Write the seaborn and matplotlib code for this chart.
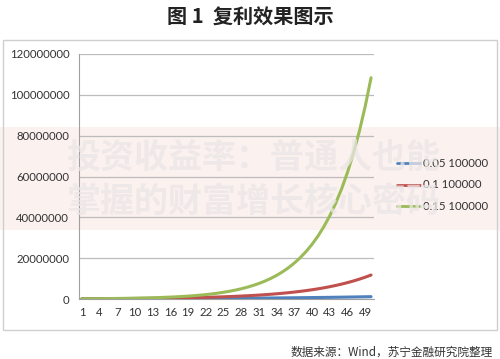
import numpy as np
import pandas as pd
import matplotlib
matplotlib.use("Agg")
import matplotlib.pyplot as plt
import seaborn as sns
from matplotlib.patches import Rectangle
from matplotlib.lines import Line2D

# ---- data ----
years = list(range(1, 51))
series_names = ["0.05 100000", "0.1 100000", "0.15 100000"]
rate_05 = [105000, 110250, 115763, 121551, 127628, 134010, 140710, 147746, 155133, 162889,
           171034, 179586, 188565, 197993, 207893, 218287, 229202, 240662, 252695, 265330,
           278596, 292526, 307152, 322510, 338635, 355567, 373346, 392013, 411614, 432194,
           453804, 476494, 500319, 525335, 551602, 579182, 608141, 638548, 670475, 703999,
           739199, 776159, 814967, 855715, 898501, 943426, 990597, 1040127, 1092133, 1146740]
rate_10 = [110000, 121000, 133100, 146410, 161051, 177156, 194872, 214359, 235795, 259374,
           285312, 313843, 345227, 379750, 417725, 459497, 505447, 555992, 611591, 672750,
           740025, 814027, 895430, 984973, 1083471, 1191818, 1311000, 1442100, 1586310, 1744940,
           1919434, 2111378, 2322515, 2554767, 2810244, 3091268, 3400395, 3740434, 4114478, 4525926,
           4978518, 5476370, 6024007, 6626408, 7289048, 8017953, 8819749, 9701723, 10671896, 11739085]
rate_15 = [115000, 132250, 152088, 174901, 201136, 231306, 266002, 305902, 351788, 404556,
           465239, 535025, 615279, 707571, 813706, 935762, 1076126, 1237545, 1423177, 1636654,
           1882152, 2164475, 2489146, 2862518, 3291895, 3785680, 4353531, 5006561, 5757545, 6621177,
           7614354, 8756507, 10069983, 11580480, 13317552, 15315185, 17612463, 20254332, 23292482, 26786354,
           30804307, 35424953, 40738696, 46849500, 53876925, 61958464, 71252233, 81940068, 94231078, 108365740]
y_ticks = [0, 20000000, 40000000, 60000000, 80000000, 100000000, 120000000]
x_labels = list(range(1, 51, 3))

title_text = "图 1  复利效果图示"
source_text = "数据来源：Wind，苏宁金融研究院整理"
watermark_lines = ["投资收益率：普通人也能", "掌握的财富增长核心密码"]

df = pd.DataFrame({
    "year": years * 3,
    "value": rate_05 + rate_10 + rate_15,
    "series": [series_names[0]] * 50 + [series_names[1]] * 50 + [series_names[2]] * 50,
})

sns.set_theme(style="white")
plt.rcParams["font.family"] = ["Lato", "Noto Sans CJK SC", "DejaVu Sans"]

fig = plt.figure(figsize=(5.0, 3.59), dpi=100)
fig.patch.set_facecolor("white")

# pink band (behind everything)
fig.patches.append(Rectangle((0, 1 - 230 / 359), 1, (230 - 127) / 359, transform=fig.transFigure,
                             facecolor="#fbf1ef", edgecolor="none", zorder=-5))
# chart box
fig.patches.append(Rectangle((3 / 500, 1 - 330 / 359), 494 / 500, 290 / 359, transform=fig.transFigure,
                             facecolor="none", edgecolor="#cfcfcf", lw=1.0, zorder=-4))

ax = fig.add_axes([79 / 500, 60 / 359, 295 / 500, 245 / 359])
ax.set_facecolor("none")
ax.set_zorder(1)

palette = {series_names[0]: "#4F81BD", series_names[1]: "#C0504D", series_names[2]: "#9BBB59"}
sns.lineplot(data=df, x="year", y="value", hue="series", palette=palette, linewidth=2.2,
             ax=ax, legend=False, zorder=3)

ax.set_xlim(0.5, 50.5)
ax.set_ylim(0, 120000000)
ax.set_yticks(y_ticks)
ax.set_yticklabels([str(v) for v in y_ticks])
ax.set_xticks(x_labels)
ax.set_xticklabels([str(v) for v in x_labels])
ax.set_xticks(np.arange(0.5, 51, 1), minor=True)
ax.tick_params(axis="x", which="major", length=0, pad=6, labelsize=8.2, labelcolor="#333333")
ax.tick_params(axis="x", which="minor", length=3, color="#a0a0a0", width=0.8, direction="out")
ax.tick_params(axis="y", which="major", length=4, color="#a0a0a0", width=0.8, direction="out",
               labelsize=8.2, labelcolor="#333333", pad=3)
ax.set_xlabel("")
ax.set_ylabel("")
ax.grid(axis="y", color="#bcbcbc", linewidth=0.9, zorder=1)
ax.set_axisbelow(True)
for side in ["top", "right"]:
    ax.spines[side].set_visible(False)
for side in ["left", "bottom"]:
    ax.spines[side].set_color("#a0a0a0")
    ax.spines[side].set_linewidth(0.8)

# legend
handles = [Line2D([0], [0], color=palette[n], lw=2.0) for n in series_names]
fig.legend(handles, series_names, loc="center left", bbox_to_anchor=(387 / 500, 1 - 185 / 359),
           frameon=False, fontsize=8.2, handlelength=2.0, handletextpad=0.25, labelspacing=0.95,
           labelcolor="#333333")

# title
fig.text(0.5, 1 - 17 / 359, title_text, ha="center", va="center", fontsize=14.5, fontweight="bold",
         family=["Noto Sans CJK SC", "DejaVu Sans"], color="#222222")

# source
fig.text(493 / 500, 1 - 352 / 359, source_text, ha="right", va="center", fontsize=8.4,
         style="italic", family=["Noto Sans CJK SC", "DejaVu Sans"], color="#333333")

# watermark overlay (semi-transparent)
for i, line in enumerate(watermark_lines):
    fig.text(253 / 500, 1 - (157 + 45 * i) / 359, line, ha="center", va="center", fontsize=24.5,
             fontweight="bold", family=["Noto Sans CJK SC", "DejaVu Sans"], color="#ebe6e6",
             alpha=0.75, zorder=10)

fig.savefig("out.png", dpi=100)
